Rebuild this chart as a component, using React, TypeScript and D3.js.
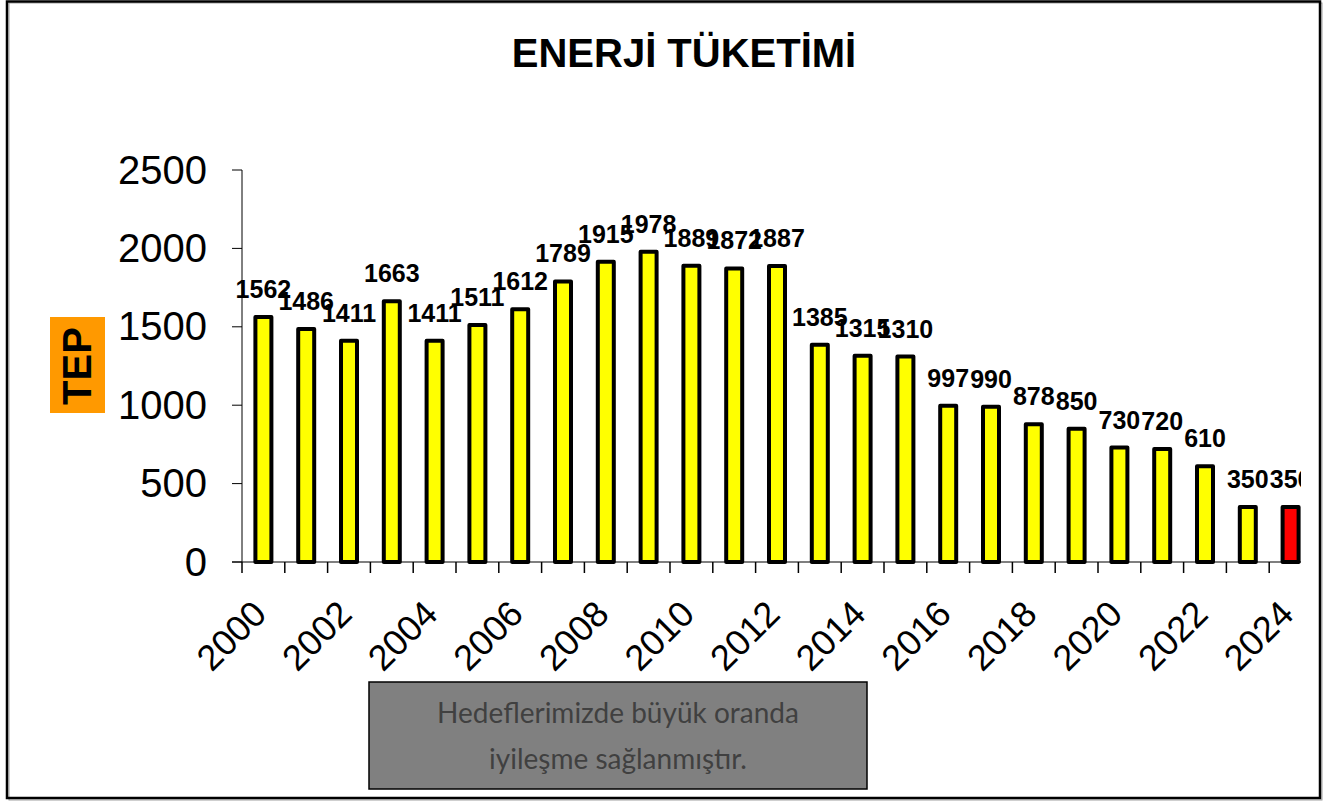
import React from "react";
import * as d3 from "d3";

const years: number[] = [2000, 2001, 2002, 2003, 2004, 2005, 2006, 2007, 2008, 2009, 2010, 2011, 2012, 2013, 2014, 2015, 2016, 2017, 2018, 2019, 2020, 2021, 2022, 2023, 2024];
const values: number[] = [1562, 1486, 1411, 1663, 1411, 1511, 1612, 1789, 1915, 1978, 1889, 1872, 1887, 1385, 1315, 1310, 997, 990, 878, 850, 730, 720, 610, 350, 350];
const yTicks: number[] = [0, 500, 1000, 1500, 2000, 2500];
const xTickLabels: number[] = [2000, 2002, 2004, 2006, 2008, 2010, 2012, 2014, 2016, 2018, 2020, 2022, 2024];
const highlightYear = 2024;
const title = "ENERJİ TÜKETİMİ";
const yTitle = "TEP";
const noteLines: string[] = ["Hedeflerimizde büyük oranda", "iyileşme sağlanmıştır."];

const W = 1335;
const H = 801;
const plotLeft = 242;
const plotRight = 242 + 42.8 * 25;
const plotTop = 170;
const plotBottom = 562;
const clipRight = 1301;

export default function App() {
  const x = d3
    .scaleBand<number>()
    .domain(years)
    .range([plotLeft, plotRight])
    .paddingInner(0)
    .paddingOuter(0);
  const y = d3.scaleLinear().domain([0, 2500]).range([plotBottom, plotTop]);
  const bw = x.bandwidth();
  const barW = 16;
  const font = "'Liberation Sans', Arial, sans-serif";

  const boundaries = years.map((yr) => x(yr) as number);

  return (
    <div style={{ position: "absolute", left: 0, top: 0 }}>
      <svg width={W} height={H} style={{ display: "block" }}>
        <rect x={0} y={0} width={W} height={H} fill="#fff" />
        {/* frame */}
        <rect x={9} y={3} width={1313} height={797} fill="none" stroke="#a0a0a0" strokeWidth={1} />
        <rect x={7} y={1.5} width={1313} height={796.5} fill="none" stroke="#000" strokeWidth={2.5} />

        {/* title */}
        <text x={684} y={67} textAnchor="middle" fontFamily={font} fontWeight="bold" fontSize={40} fill="#000">
          {title}
        </text>

        {/* y title */}
        <rect x={50} y={317} width={55} height={96} fill="#FF9900" />
        <text
          transform={`translate(${91},${366}) rotate(-90)`}
          textAnchor="middle"
          fontFamily={font}
          fontWeight="bold"
          fontSize={40}
          fill="#000"
        >
          {yTitle}
        </text>

        {/* y axis */}
        <line x1={plotLeft} x2={plotLeft} y1={plotTop} y2={plotBottom} stroke="#000" strokeWidth={1} />
        {yTicks.map((t) => (
          <g key={t}>
            <line x1={plotLeft - 10} x2={plotLeft} y1={y(t)} y2={y(t)} stroke="#000" strokeWidth={1} />
            <text x={207} y={y(t) + 13.5} textAnchor="end" fontFamily={font} fontSize={40} fill="#000">
              {t}
            </text>
          </g>
        ))}

        <defs>
          <clipPath id="plotClip">
            <rect x={0} y={0} width={clipRight} height={H} />
          </clipPath>
        </defs>

        <g clipPath="url(#plotClip)">
          {/* x axis */}
          <line x1={plotLeft - 10} x2={plotRight} y1={plotBottom} y2={plotBottom} stroke="#000" strokeWidth={1.2} />
          {boundaries.map((b, i) => (
            <line key={i} x1={b} x2={b} y1={plotBottom} y2={plotBottom + 11} stroke="#000" strokeWidth={1.5} />
          ))}

          {/* bars */}
          {years.map((yr, i) => {
            const cx = (x(yr) as number) + bw / 2;
            return (
              <rect
                key={yr}
                x={cx - barW / 2}
                y={y(values[i])}
                width={barW}
                height={plotBottom - y(values[i])}
                fill={yr === highlightYear ? "#FF0000" : "#FFFF00"}
                stroke="#000"
                strokeWidth={4}
                strokeLinejoin="round"
              />
            );
          })}

          {/* value labels */}
          {years.map((yr, i) => {
            const cx = (x(yr) as number) + bw / 2;
            return (
              <text
                key={yr}
                x={cx}
                y={y(values[i]) - 19}
                textAnchor="middle"
                fontFamily={font}
                fontWeight="bold"
                fontSize={25}
                fill="#000"
              >
                {values[i]}
              </text>
            );
          })}
        </g>

        {/* x tick labels */}
        {xTickLabels.map((yr) => {
          const cx = (x(yr) as number) + bw / 2;
          return (
            <text
              key={yr}
              transform={`translate(${cx + 5},${616}) rotate(-45)`}
              textAnchor="end"
              fontFamily={font}
              fontSize={36}
              fill="#000"
            >
              {yr}
            </text>
          );
        })}

        {/* note box */}
        <rect x={369} y={682} width={498} height={107} fill="#808080" stroke="#000" strokeWidth={1.5} />
        {noteLines.map((line, i) => (
          <text
            key={i}
            x={618}
            y={723 + i * 46}
            textAnchor="middle"
            fontFamily="Lato, 'Open Sans', sans-serif"
            fontSize={28}
            fill="#404040"
          >
            {line}
          </text>
        ))}
      </svg>
    </div>
  );
}
